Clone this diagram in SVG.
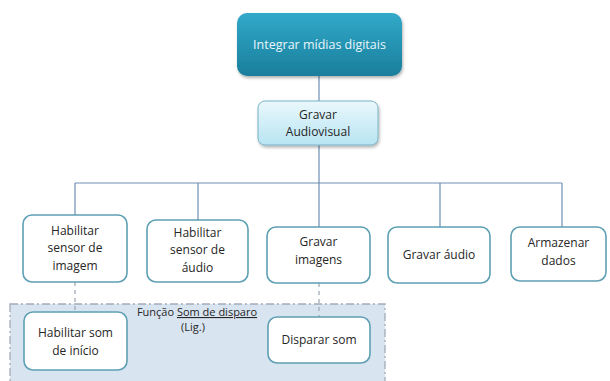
<svg xmlns="http://www.w3.org/2000/svg" width="610" height="381" viewBox="0 0 610 381">
<defs>
<linearGradient id="gTop" x1="0" y1="0" x2="0" y2="1">
<stop offset="0" stop-color="#32a9c9"/>
<stop offset="1" stop-color="#1a7e9c"/>
</linearGradient>
<linearGradient id="gMid" x1="0" y1="0" x2="0" y2="1">
<stop offset="0" stop-color="#eaf8fc"/>
<stop offset="1" stop-color="#b8e4f2"/>
</linearGradient>
<filter id="sh" x="-10%" y="-10%" width="130%" height="140%">
<feDropShadow dx="1" dy="2" stdDeviation="1.5" flood-color="#000" flood-opacity="0.3"/>
</filter>
</defs>
<style>
text{font-family:"Open Sans","Liberation Sans",sans-serif;font-size:12px;fill:#262626;text-anchor:middle}
.sm{font-size:11px}
.box{fill:#fff;stroke:#5d9fb3;stroke-width:1.6}
.ln{stroke:#6d8fb3;stroke-width:1.2;fill:none}
.dl{stroke:#9aa6b4;stroke-width:1.2;fill:none;stroke-dasharray:4 4}
</style>
<rect x="10" y="304" width="375" height="85" fill="#d9e4f1" stroke="#a3acb8" stroke-width="1.3" stroke-dasharray="8 3 2 3"/>
<g id="connectors">
<path class="ln" d="M319 76V101M319 145V183M75 183H562M75 183V215M198 183V220M319 183V227M440 183V227M562 183V227"/>
<path class="dl" d="M75 282V312M319 283V317"/>
</g>
<g id="n_top">
<rect x="237" y="13" width="165" height="63" rx="10" fill="url(#gTop)" filter="url(#sh)"/>
<text x="319.5" y="49" style="fill:#e8f6fb;font-size:12.5px">Integrar mídias  digitais</text>
</g>
<g id="n_gravar_av">
<rect x="258" y="101" width="120" height="44" rx="7" fill="url(#gMid)" stroke="#79b4c8" stroke-width="1" filter="url(#sh)"/>
<text x="318" y="119">Gravar</text>
<text x="318" y="136">Audiovisual</text>
</g>
<g id="n_hab_img">
<rect class="box" x="23" y="215" width="104" height="67" rx="9"/>
<text x="75" y="235">Habilitar</text>
<text x="75" y="252">sensor de</text>
<text x="75" y="270">imagem</text>
</g>
<g id="n_hab_aud">
<rect class="box" x="147" y="220" width="101" height="62" rx="9"/>
<text x="197.5" y="237">Habilitar</text>
<text x="197.5" y="254">sensor de</text>
<text x="197.5" y="272">áudio</text>
</g>
<g id="n_grav_img">
<rect class="box" x="267" y="227" width="103" height="56" rx="9"/>
<text x="318.5" y="246">Gravar</text>
<text x="318.5" y="264">imagens</text>
</g>
<g id="n_grav_aud">
<rect class="box" x="388" y="227" width="102" height="56" rx="9"/>
<text x="439" y="259">Gravar áudio</text>
</g>
<g id="n_armazenar">
<rect class="box" x="511" y="227" width="95" height="54" rx="9"/>
<text x="558.5" y="247">Armazenar</text>
<text x="558.5" y="265">dados</text>
</g>
<g id="n_funcao">
<text class="sm" x="197" y="316">Função <tspan text-decoration="underline">Som de disparo</tspan></text>
<text class="sm" x="193" y="331">(Lig.)</text>
</g>
<g id="n_hab_som">
<rect class="box" x="24" y="312" width="103" height="58" rx="9"/>
<text x="75.5" y="337">Habilitar som</text>
<text x="75.5" y="355">de início</text>
</g>
<g id="n_disparar">
<rect class="box" x="268" y="317" width="102" height="46" rx="9"/>
<text x="319" y="344">Disparar som</text>
</g>
</svg>
